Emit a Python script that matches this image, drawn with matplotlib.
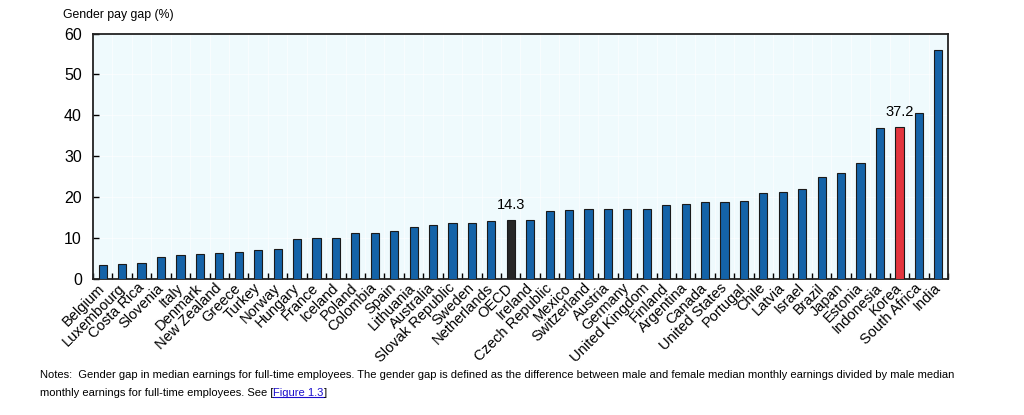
import numpy as np
import matplotlib
matplotlib.use('Agg')
import matplotlib.pyplot as plt

plt.rcParams['font.family'] = ['Liberation Sans', 'DejaVu Sans']

# values
countries = ['Belgium', 'Luxembourg', 'Costa Rica', 'Slovenia', 'Italy', 'Denmark',
             'New Zealand', 'Greece', 'Turkey', 'Norway', 'Hungary', 'France',
             'Iceland', 'Poland', 'Colombia', 'Spain', 'Lithuania', 'Australia',
             'Slovak Republic', 'Sweden', 'Netherlands', 'OECD', 'Ireland',
             'Czech Republic', 'Mexico', 'Switzerland', 'Austria', 'Germany',
             'United Kingdom', 'Finland', 'Argentina', 'Canada', 'United States',
             'Portugal', 'Chile', 'Latvia', 'Israel', 'Brazil', 'Japan', 'Estonia',
             'Indonesia', 'Korea', 'South Africa', 'India']
gap = [3.4, 3.6, 3.9, 5.3, 5.8, 6.0, 6.3, 6.5, 7.1, 7.4, 9.7, 10.0,
       10.1, 11.2, 11.2, 11.6, 12.6, 13.2, 13.6, 13.6, 14.1, 14.3, 14.5,
       16.6, 16.8, 17.0, 17.0, 17.2, 17.2, 18.1, 18.3, 18.7, 18.9,
       19.0, 21.1, 21.2, 21.9, 25.0, 25.8, 28.4,
       36.8, 37.2, 40.6, 55.9]
highlight = {'OECD': '#262626', 'Korea': '#E3363F'}
y_ticks = [0, 10, 20, 30, 40, 50, 60]

fig = plt.figure(figsize=(10.24, 4.15), dpi=100)
ax = fig.add_axes([0.0908, 0.328, 0.835, 0.591])
ax.set_facecolor('#EFFAFD')

x = np.arange(len(countries))
colors = [highlight.get(c, '#1463A8') for c in countries]
ax.bar(x, gap, width=0.42, color=colors, edgecolor='#1a1a1a', linewidth=0.8, zorder=3)

# labels above the two highlighted bars
for c in highlight:
    i = countries.index(c)
    ax.text(i, gap[i] + 2.0, f'{gap[i]:.1f}', ha='center', va='bottom', fontsize=10.5)

ax.set_xlim(-0.5, len(countries) - 0.5)
ax.set_ylim(0, 60)
ax.set_yticks(y_ticks)
ax.set_xticks(x)
ax.set_xticklabels(countries, rotation=45, ha='right', va='center',
                   rotation_mode='anchor', fontsize=10.5)
ax.set_xticks(np.arange(len(countries) + 1) - 0.5, minor=True)
ax.tick_params(axis='x', which='major', length=0, pad=5)
ax.tick_params(axis='x', which='minor', direction='in', length=4, width=1)
ax.tick_params(axis='y', direction='in', length=4, width=1, labelsize=11.5, pad=8)
for s in ax.spines.values():
    s.set_linewidth(1.3)
    s.set_color('#222222')

ax.grid(axis='x', which='minor', color='white', linewidth=0.6, alpha=0.7, zorder=0)
ax.grid(axis='y', color='white', linewidth=0.6, alpha=0.7, zorder=0)

fs = 8.0
fig.text(0.0615, 0.963, 'Gender pay gap (%)', fontsize=8.8, va='center')
fig.text(0.039, 0.097, 'Notes:  Gender gap in median earnings for full-time employees. The gender gap is defined as '
         'the difference between male and female median monthly earnings divided by male median',
         fontsize=fs, va='center')
t1 = fig.text(0.039, 0.053, 'monthly earnings for full-time employees. See [', fontsize=fs, va='center')
fig.canvas.draw()
bb = t1.get_window_extent().transformed(fig.transFigure.inverted())
t2 = fig.text(bb.x1, 0.053, 'Figure 1.3', fontsize=fs, va='center', color='#1A0DCC')
fig.canvas.draw()
bb2 = t2.get_window_extent().transformed(fig.transFigure.inverted())
fig.add_artist(plt.Line2D([bb2.x0, bb2.x1], [bb2.y0 + 0.003, bb2.y0 + 0.003], color='#1A0DCC', linewidth=0.8))
fig.text(bb2.x1, 0.053, ']', fontsize=fs, va='center')

fig.savefig('out.png', dpi=100)
